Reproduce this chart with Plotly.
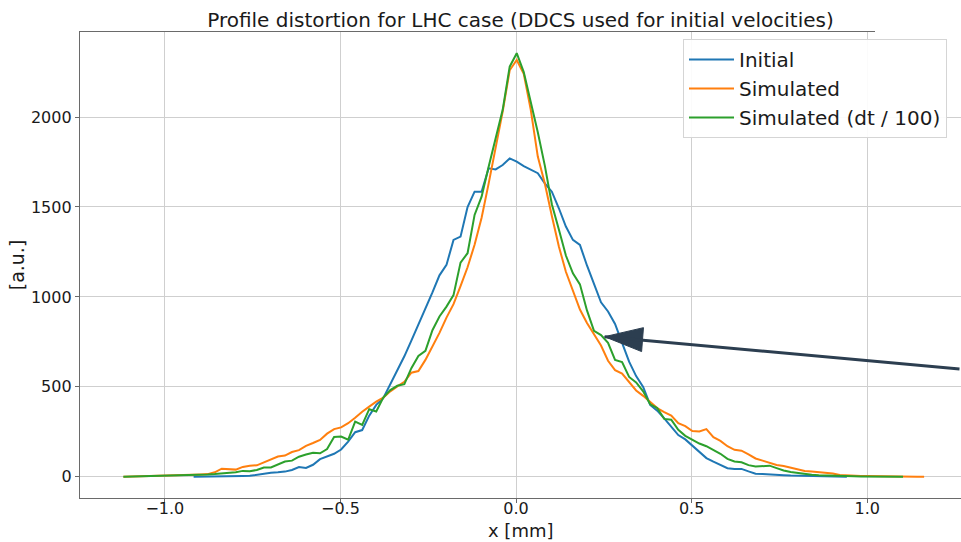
import numpy as np
import plotly.graph_objects as go

# Bin centres of the longitudinal profile histograms [mm]
X_START = -1.118
X_STEP = 0.02
N_BINS = 115
x_mm = np.round(X_START + X_STEP * np.arange(N_BINS), 3)

# Initial profile covers bins 10..103
initial_first = 10
initial = [
    1, 1, 2, 3, 2, 3, 3, 5, 6, 12,
    17, 22, 25, 29, 38, 54, 49, 67, 98, 113,
    128, 152, 196, 248, 260, 340, 400, 437, 515, 585,
    670, 757, 844, 930, 1025, 1120, 1178, 1317, 1335, 1500,
    1585, 1585, 1715, 1709, 1733, 1770, 1752, 1727, 1706, 1688,
    1631, 1585, 1493, 1391, 1317, 1289, 1175, 1076, 970, 919,
    850, 745, 640, 560, 500, 400, 368, 325, 280, 232,
    208, 172, 138, 104, 84, 66, 48, 44, 44, 30,
    17, 16, 15, 12, 9, 7, 6, 5, 4, 4,
    3, 2, 2, 1,
]

# Simulated profile covers bins 0..114
simulated_first = 0
simulated = [
    0, 1, 1, 2, 2, 3, 5, 7, 9, 10,
    12, 13, 15, 25, 45, 42, 40, 55, 62, 64,
    80, 95, 113, 118, 138, 148, 172, 188, 205, 240,
    265, 275, 298, 328, 362, 390, 418, 440, 475, 503,
    528, 579, 588, 650, 725, 800, 885, 960, 1060, 1165,
    1290, 1440, 1630, 1820, 2030, 2260, 2317, 2240, 2040, 1780,
    1630, 1450, 1280, 1140, 1030, 930, 855, 795, 730, 645,
    593, 574, 527, 480, 450, 415, 382, 360, 340, 298,
    282, 255, 252, 265, 220, 200, 170, 150, 145, 125,
    102, 90, 76, 66, 60, 51, 38, 32, 29, 25,
    24, 18, 10, 7, 5, 4, 4, 3, 3, 2,
    2, 1, 1, 1, 1,
]

# Simulated profile with a 100x smaller time step covers bins 0..111
fine_first = 0
simulated_fine = [
    0, 1, 1, 2, 3, 2, 3, 5, 6, 8,
    8, 10, 13, 15, 18, 21, 26, 33, 31, 38,
    52, 52, 67, 85, 90, 112, 124, 134, 131, 154,
    222, 224, 206, 307, 289, 376, 363, 440, 482, 506,
    515, 604, 672, 700, 815, 891, 946, 1010, 1191, 1243,
    1456, 1557, 1724, 1880, 2040, 2280, 2355, 2250, 2085, 1915,
    1730, 1515, 1375, 1230, 1131, 1070, 925, 812, 788, 745,
    650, 638, 555, 525, 475, 403, 383, 322, 317, 261,
    228, 207, 185, 170, 150, 128, 100, 85, 81, 65,
    57, 60, 62, 48, 35, 27, 21, 16, 12, 9,
    7, 6, 4, 4, 3, 2, 2, 2, 1, 1,
    1, 1,
]

series = [
    ("Initial", initial_first, initial, "#1f77b4"),
    ("Simulated", simulated_first, simulated, "#ff7f0e"),
    ("Simulated (dt / 100)", fine_first, simulated_fine, "#2ca02c"),
]

# Arrow pointing at the shoulder of the distorted profile
arrow_tip = (0.2523, 779)
arrow_color = "#2c3e50"

FONT = "DejaVu Sans"
TEXT = "#1a1a1a"

fig = go.Figure()
for name, first, values, color in series:
    fig.add_trace(go.Scatter(
        x=x_mm[first:first + len(values)],
        y=values,
        mode="lines",
        name=name,
        line=dict(color=color, width=2),
    ))

axis_common = dict(
    automargin=False,
    showgrid=True,
    gridcolor="#cfcfcf",
    gridwidth=1,
    zeroline=False,
    showline=True,
    linecolor="#6a6a6a",
    linewidth=1.3,
    ticks="outside",
    ticklen=4,
    tickwidth=1,
    tickcolor="#6a6a6a",
    tickfont=dict(family=FONT, size=16, color=TEXT),
)

fig.update_layout(
    width=961,
    height=542,
    margin=dict(l=80, r=0, t=32, b=44),
    paper_bgcolor="white",
    plot_bgcolor="white",
    font=dict(family=FONT, color=TEXT),
    title=dict(
        text="Profile distortion for LHC case (DDCS used for initial velocities)",
        x=0.5, xref="paper", xanchor="center",
        y=1 - 20 / 542, yref="container", yanchor="middle",
        font=dict(family=FONT, size=20, color=TEXT),
    ),
    xaxis=dict(
        range=[-1.2415, 1.267],
        tickvals=[-1.0, -0.5, 0.0, 0.5, 1.0],
        tickformat=".1f",
        ticklabelstandoff=-8,
        mirror=True,
        **axis_common,
    ),
    yaxis=dict(
        range=[-117.75, 2472.75],
        tickvals=[0, 500, 1000, 1500, 2000],
        title=dict(text="[a.u.]", font=dict(family=FONT, size=19, color=TEXT), standoff=1),
        **axis_common,
    ),
    legend=dict(
        x=(683 - 80) / 881, y=(498 - 39) / 466,
        xanchor="left", yanchor="top",
        bgcolor="rgba(255,255,255,0.9)",
        bordercolor="#d5d5d5",
        borderwidth=1,
        font=dict(family=FONT, size=20, color=TEXT),
        itemwidth=45,
        tracegroupgap=0,
    ),
    showlegend=True,
)

# x-axis title, set just below the tick labels
fig.add_annotation(
    text="x [mm]", xref="paper", yref="paper",
    x=0.5, y=-(530.5 - 498) / 466, xanchor="center", yanchor="middle",
    showarrow=False, borderpad=0,
    font=dict(family=FONT, size=18, color=TEXT),
)

# White band hiding the top-right corner of the frame
fig.add_shape(
    type="rect", xref="paper", yref="paper",
    x0=(875 - 80) / 881, x1=1.05,
    y0=(498 - 83) / 466, y1=1.2,
    fillcolor="white", line=dict(width=0), layer="above",
)

# Arrow shaft
fig.add_annotation(
    x=arrow_tip[0], y=arrow_tip[1], xref="x", yref="y",
    text="", showarrow=True, arrowhead=0,
    arrowcolor=arrow_color, arrowwidth=3,
    ax=420, ay=32.5, standoff=0,
)
# Arrow head (triangle sized in pixels, anchored at the tip)
fig.add_shape(
    type="path", xref="x", yref="y",
    xsizemode="pixel", ysizemode="pixel",
    xanchor=arrow_tip[0], yanchor=arrow_tip[1],
    path="M0,0 L36.97,-14.9 L38.83,9.02 Z",
    fillcolor=arrow_color, line=dict(color=arrow_color, width=1),
    layer="above",
)

fig.write_html("out.html")
